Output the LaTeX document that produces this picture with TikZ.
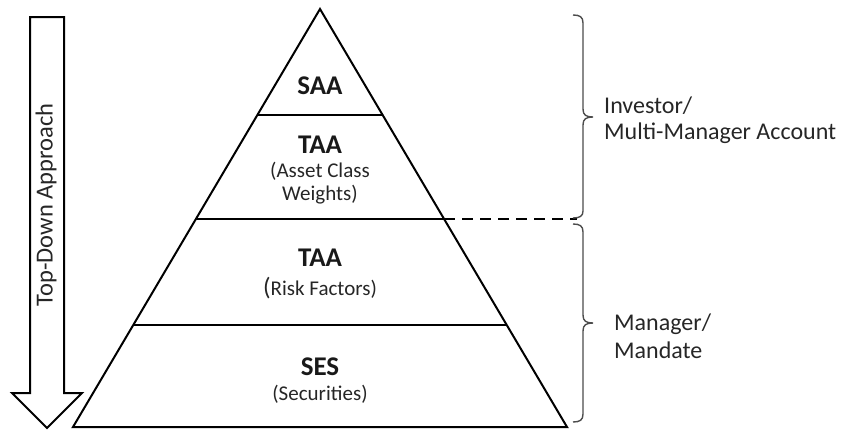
\documentclass[tikz,border=0pt]{standalone}
\usepackage{fontspec}
\setmainfont{Carlito}
\begin{document}
\begin{tikzpicture}[x=1pt,y=-1pt,
  shape line/.style={line width=2pt,black,line join=miter},
  bracestyle/.style={line width=1.4pt,black!70},
  bigbold/.style={font=\fontsize{27}{30}\selectfont\bfseries,inner sep=0pt,text=black!90},
  subtxt/.style={font=\fontsize{21}{23}\selectfont,inner sep=0pt,text=black!85},
  sidetxt/.style={font=\fontsize{24}{26}\selectfont,inner sep=0pt,anchor=base west,text=black!85}]
\useasboundingbox (0,0) rectangle (841,431);
% pyramid
\coordinate (A) at (320,9);
\coordinate (BL) at (73,427);
\coordinate (BR) at (567,427);
\draw[shape line] (A) -- (BL) -- (BR) -- cycle;
\coordinate (l1) at (257.4,115);
\coordinate (r1) at (382.6,115);
\coordinate (l2) at (195.9,219);
\coordinate (r2) at (444.1,219);
\coordinate (l3) at (133.3,325);
\coordinate (r3) at (506.7,325);
\draw[shape line] (l1) -- (r1);
\draw[shape line] (l2) -- (r2);
\draw[shape line] (l3) -- (r3);
\coordinate (dend) at (577,219);
\draw[line width=2.8pt,black,dash pattern=on 11pt off 7pt] (r2) -- (dend);
% pyramid labels
\node[bigbold] (saa) at (320,86) {SAA};
\node[bigbold] (taa1) at (320,145) {TAA};
\node[subtxt,align=center] (acw) at (320,183) {(Asset Class\\Weights)};
\node[bigbold] (taa2) at (320,258) {TAA};
\node[subtxt] (rf) at (320,288) {{\fontsize{25}{25}\selectfont(}Risk Factors)};
\node[bigbold] (ses) at (320,367) {SES};
\node[subtxt] (sec) at (320,394) {(Securities)};
% arrow
\draw[shape line] (30,17) -- (64,17) -- (64,393) -- (82,393) -- (47,428) -- (12,393) -- (30,393) -- cycle;
\node[font=\fontsize{24.5}{26}\selectfont,rotate=90,inner sep=0pt,text=black!85] (tda) at (46,205) {Top-Down Approach};
% braces
\draw[bracestyle] (573,15) .. controls (580,15) and (583,17) .. (583,23) -- (583,109)
  .. controls (583,115) and (586,117) .. (593,117)
  .. controls (586,117) and (583,119) .. (583,125) -- (583,211)
  .. controls (583,216) and (580,218) .. (573,218);
\draw[bracestyle] (573,224) .. controls (580,224) and (583,226) .. (583,232) -- (583,315)
  .. controls (583,321) and (586,323) .. (593,323)
  .. controls (586,323) and (583,325) .. (583,331) -- (583,414)
  .. controls (583,420) and (580,422) .. (573,422);
% side labels
\node[sidetxt] (inv) at (604,113) {Investor/};
\node[sidetxt] (mma) at (604,139) {Multi-Manager Account};
\node[sidetxt] (mgr) at (614,330) {Manager/};
\node[sidetxt] (mnd) at (614,358) {Mandate};
\end{tikzpicture}
\end{document}
